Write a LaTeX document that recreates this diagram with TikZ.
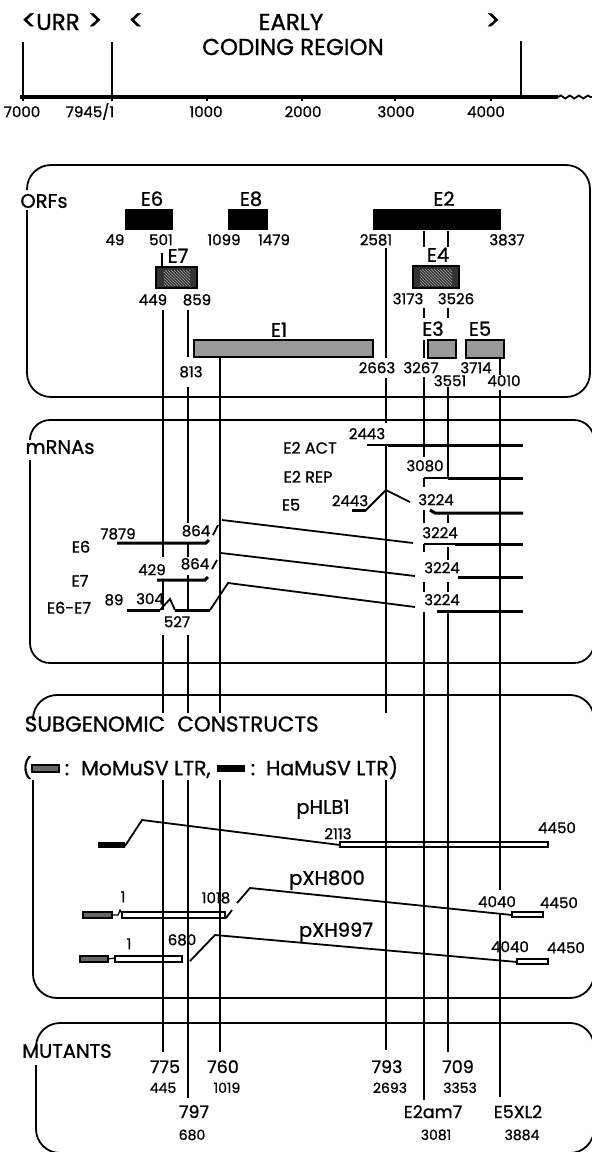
\documentclass[tikz,border=0pt]{standalone}
\usepackage{fontspec}
\setmainfont{Poppins}[FakeBold=1]
\usetikzlibrary{patterns,decorations.pathmorphing}
\newcommand\fntH{\fontsize{23}{25}\selectfont}
\newcommand\fntC{\fontsize{28}{28}\selectfont}
\newcommand\fntS{\fontsize{21.5}{23}\selectfont}
\newcommand\fntG{\fontsize{20.5}{22}\selectfont}
\newcommand\fntL{\fontsize{19.5}{21}\selectfont}
\newcommand\fntM{\fontsize{16}{18}\selectfont}
\newcommand\fntN{\fontsize{15}{17}\selectfont}
\newcommand\fntT{\fontsize{14}{16}\selectfont}
\newcommand\fntB{\fontsize{17.5}{19}\selectfont}
\tikzset{
  bx/.style={line width=1.8pt, rounded corners=24pt},
  vl/.style={line width=1.7pt},
  thk/.style={line width=3pt},
  spl/.style={line width=1.8pt},
  nN/.style={inner sep=0pt, anchor=base, yshift=-5.2pt, font=\fntN},
  nT/.style={inner sep=0pt, anchor=base, yshift=-4.9pt, font=\fntT},
  nM/.style={inner sep=0pt, anchor=base, yshift=-5.6pt, font=\fntM},
  nL/.style={inner sep=0pt, anchor=base, yshift=-6.8pt, font=\fntL},
  nB/.style={inner sep=0pt, anchor=base, yshift=-6.1pt, font=\fntB},
  nH/.style={inner sep=0pt, anchor=base, yshift=-8pt, font=\fntH},
  nC/.style={inner sep=0pt, anchor=base, yshift=-8pt, font=\fntC},
  nS/.style={inner sep=0pt, anchor=base, yshift=-7.5pt, font=\fntS},
  nG/.style={inner sep=0pt, anchor=base, yshift=-7.2pt, font=\fntG},
  nGw/.style={nG, anchor=base west},
  orfblack/.style={fill=black, draw=black, line width=1pt},
  orfhatch/.style={fill=black!80, draw=black, line width=1.6pt},
  orfgray/.style={fill=black!40, draw=black, line width=1.8pt},
  mobar/.style={fill=black!60, draw=black, line width=1.2pt},
  openbar/.style={fill=white, draw=black, line width=1.2pt},
}
\begin{document}
\begin{tikzpicture}[x=1pt,y=-1pt]
\useasboundingbox (0,0) rectangle (592,1152);
% ---------------- header and ruler ----------------
\node[nC] (urrl) at (29,22) {<};
\node[nH] (urr) at (58,22) {URR};
\node[nC] (urrr) at (95,22) {>};
\node[nC] (lt) at (136,22) {<};
\node[nH] (early) at (291,22) {EARLY};
\node[nH] (coding) at (293,47) {CODING REGION};
\node[nC] (gt) at (493,22) {>};
\coordinate (rA) at (20,97);
\coordinate (rB) at (558,97);
\coordinate (rC) at (594,97);
\draw[line width=3.5pt] (rA) -- (rB);
\draw[line width=1.8pt, decorate, decoration={snake, segment length=9pt, amplitude=1.5pt}] (rB) -- (rC);
\draw[vl] (23,42) -- (23,97);
\draw[vl] (112,42) -- (112,97);
\draw[vl] (521,41) -- (521,97);
\foreach \x in {23,112,207,302,395,491} \draw[line width=2.6pt] (\x,97) -- (\x,101);
\node[nN] (r1) at (22,112) {7000};
\node[nN] (r2) at (90,112) {7945/1};
\node[nN] (r3) at (206,112) {1000};
\node[nN] (r4) at (303,112) {2000};
\node[nN] (r5) at (396,112) {3000};
\node[nN] (r6) at (486,112) {4000};
% ---------------- boxes ----------------
\draw[bx] (27,210) -- (27,397) -- (590,397) -- (590,165) -- (27,165) -- (27,190);
\draw[bx, rounded corners=20pt] (30,460) -- (30,663) -- (594,663) -- (594,420) -- (30,420) -- (30,440);
\draw[bx] (33,780) -- (33,998) -- (594,998) -- (594,695) -- (33,695) -- (33,720);
\draw[bx] (36,1065) -- (36,1153) -- (594,1153) -- (594,1023) -- (36,1023) -- (36,1047);
% ---------------- ORFs ----------------
\node[nL] (orfs) at (44,201) {ORFs};
\draw[orfblack] (125,209) rectangle (172,229);
\draw[orfblack] (228,209) rectangle (267,229);
\draw[orfblack] (373,209) rectangle (500,229);
\draw[orfhatch] (156,267) rectangle (197,288);
\fill[pattern=north west lines, pattern color=black!35] (164,270) rectangle (190,285);
\draw[orfhatch] (413,266) rectangle (459,288);
\fill[pattern=north west lines, pattern color=black!35] (420,269) rectangle (452,285);
\draw[orfgray] (194,340) rectangle (373,357);
\draw[orfgray] (428,340) rectangle (456,358);
\draw[orfgray] (466,340) rectangle (504,358);
\node[nL] (e6) at (152,199) {E6};
\node[nL] (e8) at (251,199) {E8};
\node[nL] (e2) at (444,199) {E2};
\node[nL] (e7) at (178,256) {E7};
\node[nL] (e4) at (438,255) {E4};
\node[nL] (e1) at (279,330) {E1};
\node[nL] (e3) at (433,329) {E3};
\node[nL] (e5) at (480,329) {E5};
\node[nN] (o49) at (115,240) {49};
\node[nN] (o501) at (161,240) {501};
\node[nN] (o1099) at (224,240) {1099};
\node[nN] (o1479) at (274,240) {1479};
\node[nN] (o2581) at (376,240) {2581};
\node[nN] (o3837) at (507,240) {3837};
\node[nN] (o449) at (153,300) {449};
\node[nN] (o859) at (197,300) {859};
\node[nN] (o3173) at (408,299) {3173};
\node[nN] (o3526) at (456,299) {3526};
\node[nN] (o813) at (191,372) {813};
\node[nN] (o2663) at (377,368) {2663};
\node[nN] (o3267) at (421,368) {3267};
\node[nN] (o3714) at (476,368) {3714};
\node[nN] (o3551) at (450,381) {3551};
\node[nN] (o4010) at (504,381) {4010};
% ---------------- mRNAs ----------------
\node[nL] (mrnas) at (60,447) {mRNAs};
\node[nM] (mact) at (310,448) {E2 ACT};
\node[nM] (mrep) at (308,477) {E2 REP};
\node[nM] (me5) at (291,505) {E5};
\node[nM] (me6) at (81,547) {E6};
\node[nM] (me7) at (80,581) {E7};
\node[nM] (me67) at (69,608) {E6-E7};
\node[nN] (m2443a) at (367,434) {2443};
\node[nN] (m3080) at (425,466) {3080};
\node[nN] (m2443b) at (350,501) {2443};
\node[nN] (m3224a) at (436,500) {3224};
\node[nN] (m3224b) at (440,533) {3224};
\node[nN] (m3224c) at (442,568) {3224};
\node[nN] (m3224d) at (442,600) {3224};
\node[nN] (m7879) at (118,534) {7879};
\node[nN] (m864a) at (196,531) {864};
\node[nN] (m429) at (152,570) {429};
\node[nN] (m864b) at (195,564) {864};
\node[nN] (m89) at (114,600) {89};
\node[nN] (m304) at (150,599) {304};
\node[nN] (m527) at (177,622) {527};
% right parts
\draw[line width=2pt] (367,445) -- (388,445);
\draw[thk] (388,445) -- (523,445);
\draw[line width=1.6pt] (424,478) -- (448,478);
\draw[thk] (448,478) -- (523,478);
\draw[thk] (352,510) -- (366,510);
\draw[spl] (365,511) -- (386,490) -- (410,502);
\draw[thk] (430,510) -- (435,513) -- (523,513);
\draw[line width=1.6pt] (424,544) -- (455,544);
\draw[thk] (455,544) -- (523,544);
\draw[thk] (458,577) -- (523,577);
\draw[thk] (437,611) -- (523,611);
% left parts and splices
\draw[thk] (117,543) -- (206,543) -- (209,540);
\draw[spl] (213,535) -- (218,525);
\draw[spl] (222,520) -- (413,543);
\draw[thk] (157,580) -- (205,580) -- (208,577);
\draw[spl] (212,569) -- (217,560);
\draw[spl] (221,553) -- (415,576);
\draw[thk] (127,610) -- (160,610);
\draw[spl] (160,610) -- (170,599) -- (175,610);
\draw[thk] (175,610) -- (210,610);
\draw[spl] (210,610) -- (228,583) -- (415,607);
% ---------------- subgenomic constructs ----------------
\node[nS] (sub) at (95,724) {SUBGENOMIC};
\node[nS] (cons) at (248,724) {CONSTRUCTS};
\node[nG] (lpar) at (27,768) {(};
\draw[mobar] (32,765) rectangle (59,772);
\node[nG] (col1) at (67,768) {:};
\node[nGw] (momu) at (81,768) {MoMuSV LTR,};
\fill (217,765) rectangle (245,772);
\node[nG] (col2) at (253,768) {:};
\node[nGw] (hamu) at (266,768) {HaMuSV LTR)};
\node[nL] (phlb) at (323,807) {pHLB1};
\node[nL] (pxh8) at (327,878) {pXH800};
\node[nL] (pxh9) at (336,930) {pXH997};
% pHLB1
\fill (98,842) rectangle (125,848);
\draw[spl] (125,846) -- (142,820) -- (340,845);
\draw[openbar] (340,842) rectangle (548,847);
% pXH800
\draw[mobar] (83,912) rectangle (112,918);
\draw[line width=1.2pt] (112,915) -- (118,915) -- (120,910) -- (122,914);
\draw[openbar] (122,912) rectangle (225,918);
\draw[spl] (226,918) -- (232,910);
\draw[spl] (237,903) -- (250,888) -- (512,915);
\draw[openbar] (512,912) rectangle (543,917);
% pXH997
\draw[mobar] (80,956) rectangle (108,962);
\draw[line width=1.2pt] (108,959) -- (115,958);
\draw[openbar] (115,956) rectangle (182,962);
\draw[spl] (190,961) -- (215,935) -- (517,962);
\draw[openbar] (517,959) rectangle (548,964);
\node[nN] (s2113) at (338,834) {2113};
\node[nN] (s4450a) at (557,828) {4450};
\node[nN] (s1a) at (123,897) {1};
\node[nN] (s1018) at (216,898) {1018};
\node[nN] (s4040a) at (497,902) {4040};
\node[nN] (s4450b) at (559,903) {4450};
\node[nN] (s1b) at (129,944) {1};
\node[nN] (s680) at (182,940) {680};
\node[nN] (s4040b) at (510,947) {4040};
\node[nN] (s4450c) at (566,948) {4450};
% ---------------- vertical lines ----------------
\foreach \a/\b in {310/557,580/610,635/713,780/1052} \draw[vl] (163,\a) -- (163,\b);
\draw[vl] (162,253) -- (162,266);
\foreach \a/\b in {310/357,387/523,542/557,575/612,635/713,780/1098} \draw[vl] (188,\a) -- (188,\b);
\foreach \a/\b in {357/713,780/1052} \draw[vl] (220,\a) -- (220,\b);
\foreach \a/\b in {248/358,378/423,445/713,780/1050} \draw[vl] (386,\a) -- (386,\b);
\foreach \a/\b in {231/247,308/318,340/358,377/457,478/487,510/523,544/552,582/592,612/1100} \draw[vl] (424,\a) -- (424,\b);
\foreach \a/\b in {231/247,308/318,387/478,515/523,547/560,582/592,610/1052} \draw[vl] (448,\a) -- (448,\b);
\foreach \a/\b in {358/375,390/890,913/1097} \draw[vl] (500,\a) -- (500,\b);
% ---------------- mutants ----------------
\node[nL] (mut) at (67,1051) {MUTANTS};
\node[nB] (u775) at (165,1067) {775};
\node[nB] (u760) at (223,1067) {760};
\node[nB] (u793) at (387,1067) {793};
\node[nB] (u709) at (458,1067) {709};
\node[nB] (u797) at (194,1112) {797};
\node[nB] (ue2) at (433,1112) {E2am7};
\node[nB] (ue5) at (518,1112) {E5XL2};
\node[nT] (u445) at (163,1088) {445};
\node[nT] (u1019) at (227,1088) {1019};
\node[nT] (u2693) at (390,1088) {2693};
\node[nT] (u3353) at (460,1088) {3353};
\node[nT] (u680) at (192,1135) {680};
\node[nT] (u3081) at (436,1135) {3081};
\node[nT] (u3884) at (522,1135) {3884};
\end{tikzpicture}
\end{document}
